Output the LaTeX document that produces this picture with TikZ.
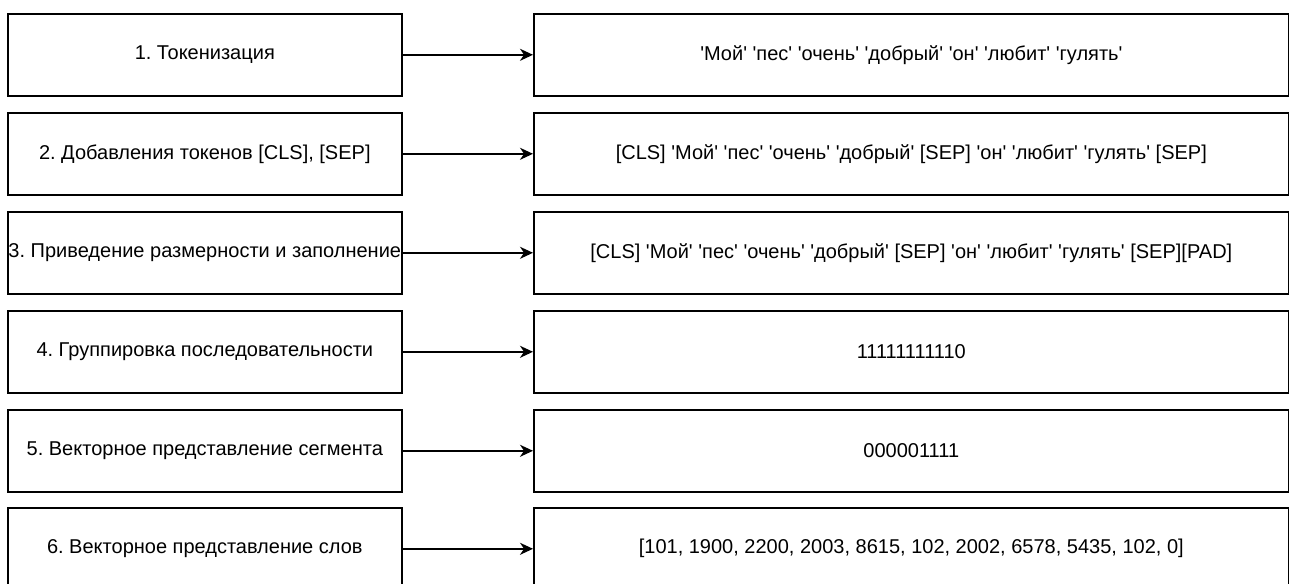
\documentclass[tikz,border=0pt]{standalone}
\usepackage{fontspec}
\setmainfont{Liberation Sans}
\usetikzlibrary{arrows.meta}
\newcommand\qt[1]{\textquotesingle#1\textquotesingle}
\frenchspacing
\begin{document}
\begin{tikzpicture}[x=1pt,y=-1pt,
  stage/.style={draw=black, line width=1.6pt, fill=white, anchor=north west,
    minimum width=394pt, minimum height=82pt, inner sep=0pt,
    font=\fontsize{20}{24}\selectfont},
  result/.style={stage, minimum width=755pt},
  flow/.style={draw=black, line width=1.6pt, -{Stealth[length=13pt,width=12pt,inset=4pt]}}]
\useasboundingbox (0,0) rectangle (1289,583);

\node[stage]  (l1) at (7,13)  {1. Токенизация};
\node[result] (r1) at (533,13) {\qt{Мой} \qt{пес} \qt{очень} \qt{добрый} \qt{он} \qt{любит} \qt{гулять}};

\node[stage]  (l2) at (7,112) {2. Добавления токенов [CLS], [SEP]};
\node[result] (r2) at (533,112) {[CLS] \qt{Мой} \qt{пес} \qt{очень} \qt{добрый} [SEP] \qt{он} \qt{любит} \qt{гулять} [SEP]};

\node[stage]  (l3) at (7,211) {3. Приведение размерности и заполнение};
\node[result] (r3) at (533,211) {[CLS] \qt{Мой} \qt{пес} \qt{очень} \qt{добрый} [SEP] \qt{он} \qt{любит} \qt{гулять} [SEP][PAD]};

\node[stage]  (l4) at (7,310) {4. Группировка последовательности};
\node[result] (r4) at (533,310) {11111111110};

\node[stage]  (l5) at (7,409) {5. Векторное представление сегмента};
\node[result] (r5) at (533,409) {000001111};

\node[stage]  (l6) at (7,507) {6. Векторное представление слов};
\node[result] (r6) at (533,507) {[101, 1900, 2200, 2003, 8615, 102, 2002, 6578, 5435, 102, 0]};

\foreach \i in {1,...,6}
  \draw[flow] (l\i.east) -- (r\i.west);
\end{tikzpicture}
\end{document}
